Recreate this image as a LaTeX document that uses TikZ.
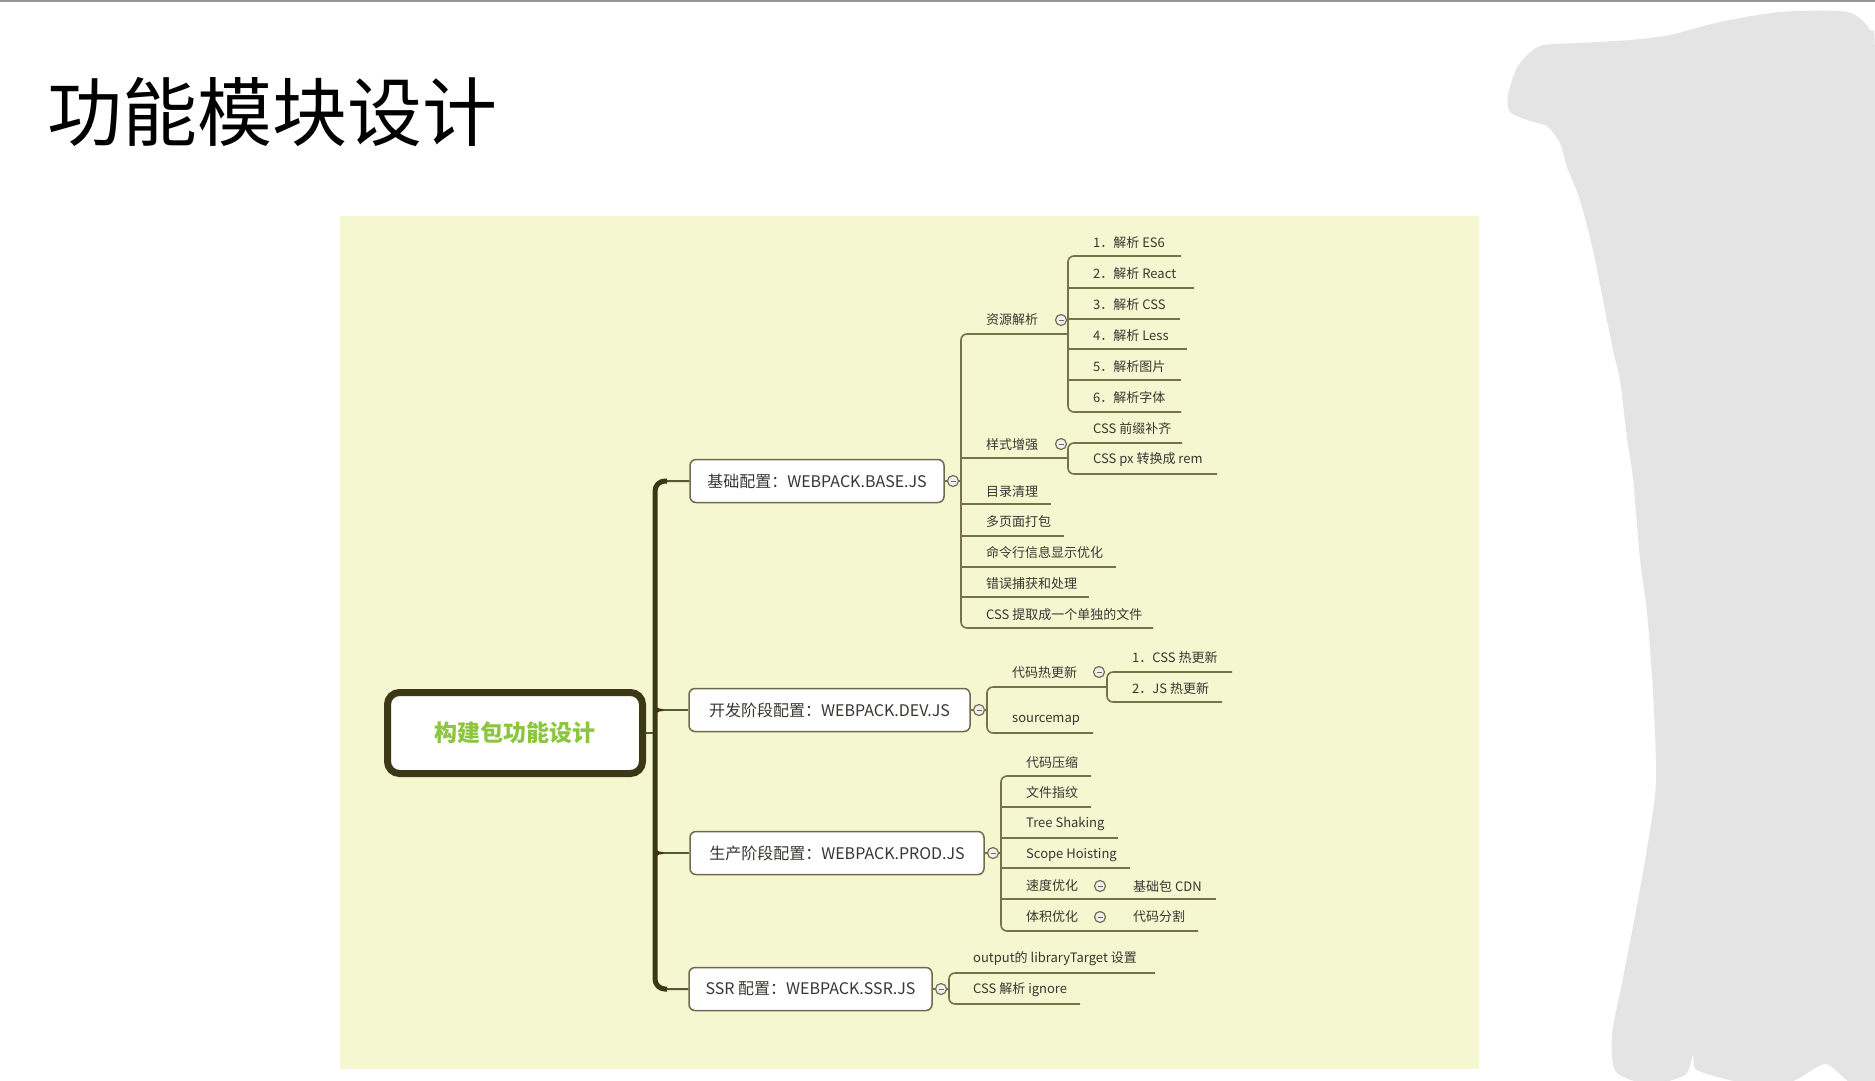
\documentclass[tikz,border=0pt]{standalone}
\usepackage{fontspec}
\setmainfont{Noto Sans CJK SC}
\definecolor{panel}{RGB}{245,247,208}
\definecolor{rootcol}{RGB}{60,55,20}
\definecolor{nodeborder}{RGB}{110,106,75}
\definecolor{linecol}{RGB}{120,114,72}
\definecolor{txt}{RGB}{55,55,50}
\definecolor{rootgreen}{RGB}{140,198,63}
\definecolor{blobcol}{RGB}{228,228,228}
\definecolor{topline}{RGB}{150,150,150}
\definecolor{circcol}{RGB}{115,110,85}
\tikzset{
  rootbox/.style={draw=rootcol, line width=7pt, rounded corners=12pt, fill=white,
    minimum width=255pt, minimum height=81pt, inner sep=0pt,
    font=\bfseries\fontsize{23}{26}\selectfont, text=rootgreen},
  lone/.style={draw=nodeborder, line width=1.5pt, rounded corners=6pt, fill=white,
    minimum height=43pt, inner sep=0pt, font=\fontsize{16}{18}\selectfont, text=txt},
  ltxt/.style={anchor=west, inner sep=0pt, font=\fontsize{13}{15}\selectfont, text=txt},
  branch/.style={draw=linecol, line width=1.6pt, rounded corners=6pt},
  conn/.style={draw=rootcol!85!white, line width=2pt},
  trunk/.style={draw=rootcol, line width=5pt, rounded corners=10pt},
  fold/.style={circle, draw=circcol, line width=1.2pt, fill=white!88!gray,
    minimum size=11pt, inner sep=0pt,
    path picture={\draw[circcol, line width=1pt]
      ([xshift=-2.5pt]path picture bounding box.center) --
      ([xshift=2.5pt]path picture bounding box.center);}}
}
\begin{document}
\begin{tikzpicture}[x=1pt,y=-1pt]
\useasboundingbox (0,0) rectangle (1875,1080);
\fill[white] (0,0) rectangle (1875,1080);
\fill[topline] (0,0) rectangle (1875,2);
% title
\node[anchor=west, inner sep=0pt, font=\fontsize{75}{80}\selectfont, text=black] (title) at (47,112) {功能模块设计};
% panel
\fill[panel] (340,216) rectangle (1479,1069);
% grey scribble
\fill[blobcol] plot[smooth cycle, tension=0.45] coordinates {
  (1508,95) (1518,66) (1540,46) (1580,43) (1630,40) (1670,35) (1720,22) (1780,12)
  (1847,12) (1870,30) (1875,60) (1875,400) (1875,800) (1875,1080) (1850,1082)
  (1825,1064) (1790,1082) (1740,1082) (1697,1070) (1693,1055) (1685,1075) (1650,1084)
  (1616,1072) (1612,1035) (1622,983) (1635,916) (1647,849) (1656,782) (1653,692)
  (1647,612) (1640,559) (1633,478) (1627,438) (1620,380) (1613,350) (1603,300)
  (1593,250) (1580,200) (1567,167) (1560,143) (1547,126) (1530,121) (1510,112)};
% root
\node[rootbox] (root) at (515,733) {构建包功能设计};
% level-1 nodes
\node[lone, minimum width=254pt] (base) at (817,481) {基础配置：WEBPACK.BASE.JS};
\node[lone, minimum width=281pt] (dev)  at (829.5,710) {开发阶段配置：WEBPACK.DEV.JS};
\node[lone, minimum width=294pt] (prod) at (837,853) {生产阶段配置：WEBPACK.PROD.JS};
\node[lone, minimum width=243pt] (ssr)  at (810.5,989) {SSR 配置：WEBPACK.SSR.JS};
% trunk
\coordinate (tb) at (655,481);
\coordinate (td) at (655,710);
\coordinate (tr) at (655,733);
\coordinate (tp) at (655,853);
\coordinate (ts) at (655,989);
\draw[conn] (root.east) -- (tr);
\draw[conn, rounded corners=10pt] (base.west) -- (tb) -- (ts) -- (ssr.west);
\draw[conn] (td) -- (dev.west);
\draw[conn] (tp) -- (prod.west);
\draw[trunk] (667,481) -- (tb) -- (ts) -- (667,989);
\draw[draw=rootcol, line width=2pt] (655,702) .. controls (655,708) and (657,710) .. (663,710);
\draw[draw=rootcol, line width=2pt] (655,718) .. controls (655,712) and (657,710) .. (663,710);
\draw[draw=rootcol, line width=2pt] (655,845) .. controls (655,851) and (657,853) .. (663,853);
\draw[draw=rootcol, line width=2pt] (655,861) .. controls (655,855) and (657,853) .. (663,853);
% ===== BASE branch
\node[fold] (fbase) at (953,481) {};
\coordinate (bbar) at (961,481);
\draw[branch] (base.east) -- (fbase.west);
\draw[branch] (fbase.east) -- (bbar);
\draw[branch] (1068,334) -- (961,334) -- (961,628) -- (1153,628);
\draw[branch] (961,458) -- (1068,458);
\draw[branch] (961,504) -- (1051,504);
\draw[branch] (961,536) -- (1064,536);
\draw[branch] (961,567) -- (1116,567);
\draw[branch] (961,597) -- (1089,597);
\node[ltxt] (b1) at (986,320) {资源解析};
\node[ltxt] (b2) at (986,445) {样式增强};
\node[ltxt] (b3) at (986,492) {目录清理};
\node[ltxt] (b4) at (986,522) {多页面打包};
\node[ltxt] (b5) at (986,553) {命令行信息显示优化};
\node[ltxt] (b6) at (986,584) {错误捕获和处理};
\node[ltxt] (b7) at (986,615) {CSS 提取成一个单独的文件};
\node[fold] (fb1) at (1061,320) {};
\node[fold] (fb2) at (1061,444) {};
% 资源解析 children
\draw[branch] (1181,256) -- (1068,256) -- (1068,412) -- (1181,412);
\draw[branch] (1068,288) -- (1194,288);
\draw[branch] (1068,319) -- (1180,319);
\draw[branch] (1068,349) -- (1187,349);
\draw[branch] (1068,380) -- (1181,380);
\node[ltxt] (r1) at (1093,243) {1．解析 ES6};
\node[ltxt] (r2) at (1093,274) {2．解析 React};
\node[ltxt] (r3) at (1093,305) {3．解析 CSS};
\node[ltxt] (r4) at (1093,336) {4．解析 Less};
\node[ltxt] (r5) at (1093,367) {5．解析图片};
\node[ltxt] (r6) at (1093,398) {6．解析字体};
% 样式增强 children
\draw[branch] (1182,443) -- (1068,443) -- (1068,474) -- (1217,474);
\node[ltxt] (s1) at (1093,429) {CSS 前缀补齐};
\node[ltxt] (s2) at (1093,460) {CSS px 转换成 rem};
% ===== DEV branch
\node[fold] (fdev) at (979,710) {};
\draw[branch] (dev.east) -- (fdev.west);
\draw[branch] (fdev.east) -- (987,710);
\draw[branch] (1107,687) -- (987,687) -- (987,733) -- (1093,733);
\node[ltxt] (d1) at (1012,673) {代码热更新};
\node[ltxt] (d2) at (1012,720) {sourcemap};
\node[fold] (fd1) at (1099,672) {};
\draw[branch] (1232,672) -- (1107,672) -- (1107,702) -- (1222,702);
\node[ltxt] (h1) at (1132,658) {1．CSS 热更新};
\node[ltxt] (h2) at (1132,689) {2．JS 热更新};
% ===== PROD branch
\node[fold] (fprod) at (993,853) {};
\draw[branch] (prod.east) -- (fprod.west);
\draw[branch] (fprod.east) -- (1001,853);
\draw[branch] (1091,776) -- (1001,776) -- (1001,931) -- (1198,931);
\draw[branch] (1001,807) -- (1091,807);
\draw[branch] (1001,838) -- (1118,838);
\draw[branch] (1001,868) -- (1130,868);
\draw[branch] (1001,899) -- (1216,899);
\node[ltxt] (p1) at (1026,763) {代码压缩};
\node[ltxt] (p2) at (1026,793) {文件指纹};
\node[ltxt] (p3) at (1026,824) {Tree Shaking};
\node[ltxt] (p4) at (1026,855) {Scope Hoisting};
\node[ltxt] (p5) at (1026,886) {速度优化};
\node[ltxt] (p6) at (1026,917) {体积优化};
\node[fold] (fp5) at (1100,886) {};
\node[fold] (fp6) at (1100,917) {};
\node[ltxt] (q1) at (1133,886) {基础包 CDN};
\node[ltxt] (q2) at (1133,917) {代码分割};
% ===== SSR branch
\node[fold] (fssr) at (941,989) {};
\draw[branch] (ssr.east) -- (fssr.west);
\draw[branch] (fssr.east) -- (949,989);
\draw[branch] (1155,973) -- (949,973) -- (949,1004) -- (1080,1004);
\node[ltxt] (x1) at (973,959) {output的 libraryTarget 设置};
\node[ltxt] (x2) at (973,990) {CSS 解析 ignore};
\end{tikzpicture}
\end{document}
